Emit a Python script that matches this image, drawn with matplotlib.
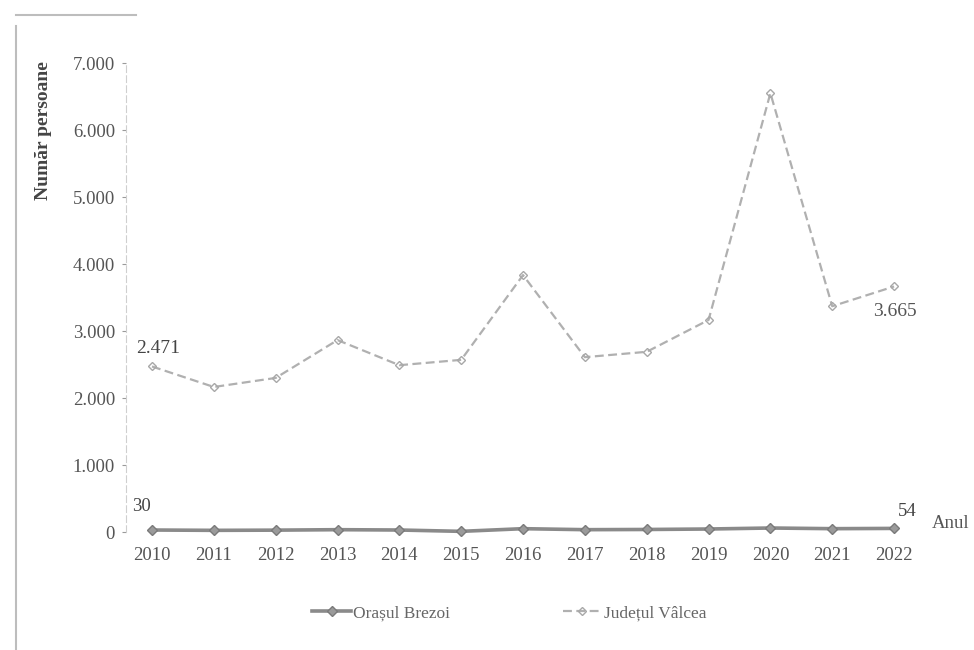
import matplotlib.pyplot as plt
from matplotlib.lines import Line2D
from matplotlib.ticker import FuncFormatter

plt.rcParams['font.family'] = ['Liberation Serif', 'DejaVu Serif']

# Datele graficului
ani = [2010, 2011, 2012, 2013, 2014, 2015, 2016, 2017, 2018, 2019, 2020, 2021, 2022]
brezoi = [30, 25, 28, 35, 30, 10, 50, 35, 38, 45, 60, 50, 54]
valcea = [2471, 2165, 2300, 2865, 2490, 2570, 3835, 2610, 2690, 3165, 6550, 3370, 3665]

x = list(range(len(ani)))


def fmt(v):
    return f'{int(v):,}'.replace(',', '.')


fig = plt.figure(figsize=(9.74, 6.5), dpi=100)
ax = fig.add_axes([0.1294, 0.1815, 0.8152, 0.7215])

ax.plot(x, valcea, color='#b0b0b0', lw=1.6, ls=(0, (4, 2)), marker='D', ms=4,
        mfc='none', mec='#a8a8a8', label='Județul Vâlcea', clip_on=False)
ax.plot(x, brezoi, color='#8a8a8a', lw=2.6, marker='D', ms=5,
        mfc='#9a9a9a', mec='#7a7a7a', label='Orașul Brezoi', clip_on=False, zorder=3)

ax.set_xlim(-0.42, 12.42)
ax.set_ylim(0, 7000)
ax.set_yticks(range(0, 8000, 1000))
ax.yaxis.set_major_formatter(FuncFormatter(lambda v, p: fmt(v)))
ax.set_xticks(x)
ax.set_xticklabels([str(a) for a in ani])

for s in ['top', 'right', 'bottom']:
    ax.spines[s].set_visible(False)
ax.spines['left'].set_color('#cfcfcf')
ax.spines['left'].set_linestyle((0, (6, 3)))
ax.tick_params(axis='y', colors='#9a9a9a', labelcolor='#555555', labelsize=13.5, length=3, pad=5)
ax.tick_params(axis='x', length=0, labelcolor='#555555', labelsize=13.5, pad=11)

ax.set_ylabel('Număr persoane', fontsize=14, fontweight='bold', color='#444444')
ax.yaxis.set_label_coords(-0.093, 0.857)
ax.text(12.61, 134, 'Anul', fontsize=13.5, color='#555555', va='center', ha='left')

# Etichete de date
ax.annotate(fmt(valcea[0]), (0, valcea[0]), xytext=(-16, 18), textcoords='offset pixels',
            ha='left', va='center', fontsize=14, color='#444444')
ax.annotate(fmt(valcea[-1]), (12, valcea[-1]), xytext=(1, -25), textcoords='offset pixels',
            ha='center', va='center', fontsize=14, color='#555555')
ax.annotate(str(brezoi[0]), (0, brezoi[0]), xytext=(-11, 24), textcoords='offset pixels',
            ha='center', va='center', fontsize=13.5, color='#444444')
ax.annotate(str(brezoi[-1]), (12, brezoi[-1]), xytext=(4, 17), textcoords='offset pixels',
            ha='left', va='center', fontsize=13.5, color='#444444')

handles, labels = ax.get_legend_handles_labels()
fig.legend(handles[::-1], labels[::-1], loc='center', bbox_to_anchor=(0.523, 0.057),
           ncol=2, frameon=False, fontsize=12.5, columnspacing=6.5, handlelength=2.2,
           handletextpad=0.15, labelcolor='#666666')

# margine din scanare
fig.add_artist(Line2D([0.016, 0.016], [0.0, 0.96], color='#bdbdbd', lw=1.5))
fig.add_artist(Line2D([0.016, 0.14], [0.977, 0.977], color='#bdbdbd', lw=1.5))

fig.savefig('out.png', dpi=100)
